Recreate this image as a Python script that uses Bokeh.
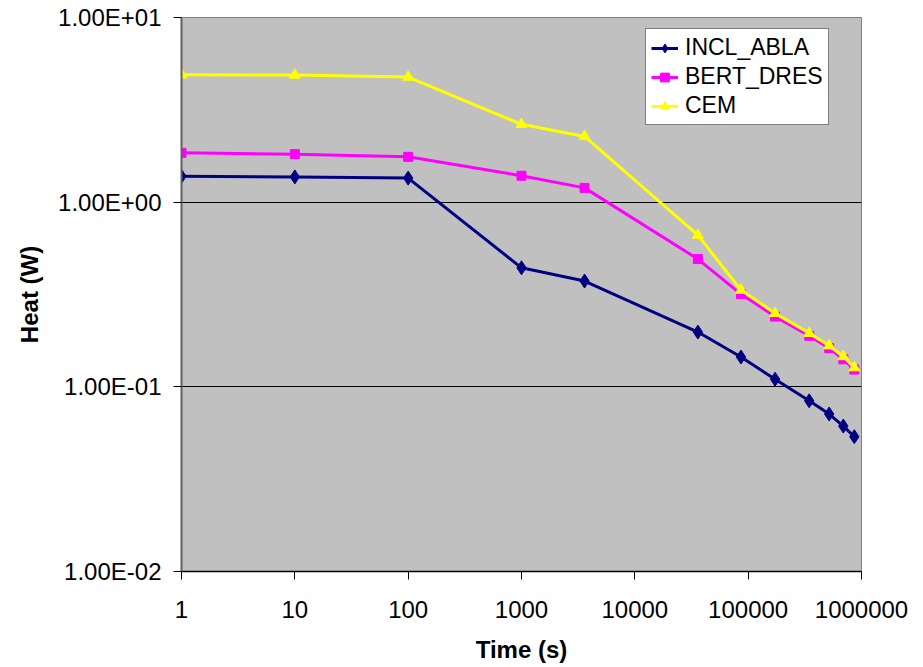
from bokeh.plotting import figure
from bokeh.models import Range1d, FixedTicker, CustomJSTickFormatter, Legend, LegendItem
from bokeh.embed import file_html
from bokeh.resources import INLINE

# ---- data ----
times = [1, 10, 100, 1000, 3600, 36000, 86400, 172800, 345600, 518400, 691200, 864000]
incl_abla = [1.38, 1.37, 1.35, 0.441, 0.374, 0.198, 0.145, 0.110, 0.084, 0.0712, 0.0613, 0.0537]
bert_dres = [1.85, 1.82, 1.76, 1.39, 1.195, 0.492, 0.318, 0.240, 0.189, 0.162, 0.141, 0.124]
cem = [4.90, 4.88, 4.76, 2.64, 2.27, 0.663, 0.334, 0.250, 0.195, 0.167, 0.146, 0.127]

x_ticks = [1, 10, 100, 1000, 10000, 100000, 1000000]
x_tick_labels = ["1", "10", "100", "1000", "10000", "100000", "1000000"]
y_ticks = [0.01, 0.1, 1, 10]
y_tick_labels = ["1.00E-02", "1.00E-01", "1.00E+00", "1.00E+01"]

FONT = "Liberation Sans"

p = figure(width=915, height=665, x_axis_type="log", y_axis_type="log",
           x_range=Range1d(1, 1e6), y_range=Range1d(0.01, 10),
           output_backend="svg", toolbar_location=None,
           min_border_left=181, min_border_right=54, min_border_top=17, min_border_bottom=93)

p.border_fill_color = "white"
p.background_fill_color = "#C0C0C0"
p.outline_line_color = "#808080"
p.outline_line_width = 1

lookup_js = """
for (let i = 0; i < tvals.length; i++) {
  if (Math.abs(Math.log10(tvals[i]) - Math.log10(tick)) < 1e-6) return tlabels[i];
}
return '';
"""

p.xaxis.ticker = FixedTicker(ticks=x_ticks)
p.xaxis.formatter = CustomJSTickFormatter(args=dict(tvals=x_ticks, tlabels=x_tick_labels), code=lookup_js)
p.yaxis.ticker = FixedTicker(ticks=y_ticks)
p.yaxis.formatter = CustomJSTickFormatter(args=dict(tvals=y_ticks, tlabels=y_tick_labels), code=lookup_js)

for ax in (p.xaxis[0], p.yaxis[0]):
    ax.major_label_text_font = FONT
    ax.major_label_text_font_size = "24px"
    ax.major_label_text_color = "black"
    ax.axis_label_text_font = FONT
    ax.axis_label_text_font_size = "24px"
    ax.axis_label_text_font_style = "bold"
    ax.axis_label_text_color = "black"
    ax.major_tick_in = 0
    ax.major_tick_out = 8
    ax.minor_tick_line_color = None
    ax.major_tick_line_color = "black"

p.xaxis.axis_label = "Time (s)"
p.yaxis.axis_label = "Heat (W)"
p.xaxis.axis_line_color = "black"
p.xaxis.axis_line_width = 1.5
p.yaxis.axis_line_color = "#606060"
p.yaxis.axis_line_width = 2
p.xaxis.major_label_standoff = 21
p.yaxis.major_label_standoff = 12
p.xaxis.axis_label_standoff = 15
p.yaxis.axis_label_standoff = 12

p.xgrid.grid_line_color = None
p.ygrid.grid_line_color = "black"
p.ygrid.grid_line_width = 1

series = [
    ("INCL_ABLA", incl_abla, "#000080", "diamond", 14),
    ("BERT_DRES", bert_dres, "#FF00FF", "square", 9),
    ("CEM", cem, "#FFFF00", "triangle", 11),
]

items = []
for name, vals, color, marker, size in series:
    lr = p.line(times, vals, line_color=color, line_width=3)
    sr = p.scatter(times, vals, marker=marker, size=size, fill_color=color, line_color=color)
    items.append(LegendItem(label=name, renderers=[lr, sr]))

legend = Legend(items=items, location=(464, 446))
legend.label_text_font = FONT
legend.label_text_font_size = "23px"
legend.label_text_color = "black"
legend.border_line_color = "black"
legend.border_line_width = 1
legend.background_fill_color = "white"
legend.background_fill_alpha = 1
legend.glyph_width = 27
legend.glyph_height = 22
legend.label_height = 22
legend.label_standoff = 7
legend.spacing = 2
legend.padding = 5
legend.margin = 0
p.add_layout(legend, "center")

open("out.html", "w").write(file_html(p, INLINE))
